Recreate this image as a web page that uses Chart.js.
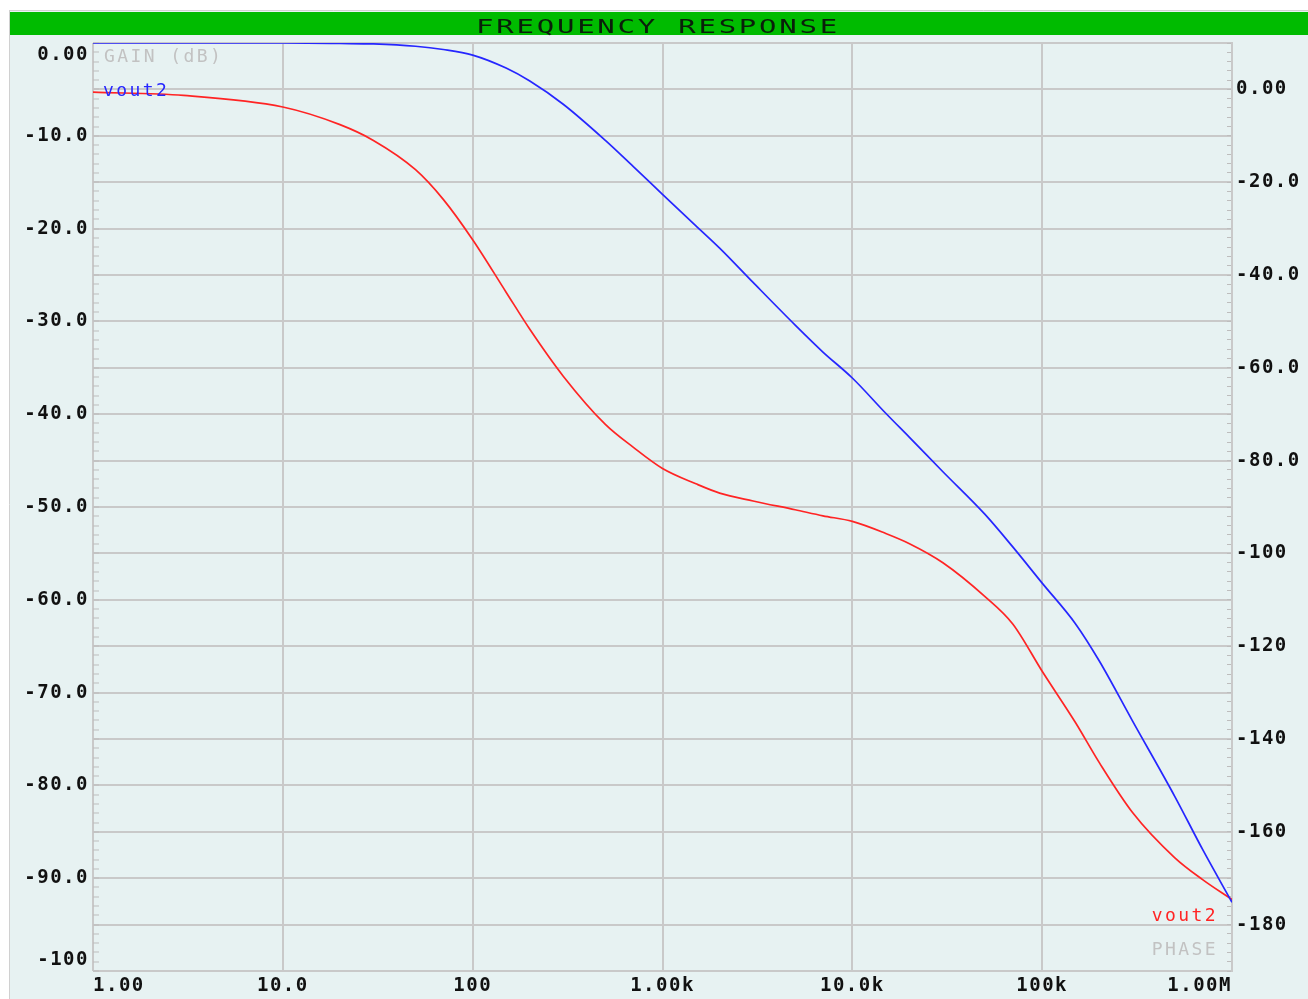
<!DOCTYPE html>
<html><head><meta charset="utf-8">
<script src="https://cdn.jsdelivr.net/npm/chart.js@4.4.1/dist/chart.umd.min.js"></script>
<style>html,body{margin:0;padding:0;background:#fff;overflow:hidden}#wrap{width:1308px;height:999px;position:relative}</style>
</head><body><div id="wrap"><canvas id="c"></canvas></div>
<script>
// ---- data ----
const freqs = [1,3,10,20,30,50,70,100,150,200,300,500,700,1e3,1.5e3,2e3,3e3,5e3,7e3,1e4,1.5e4,2e4,3e4,5e4,7e4,1e5,1.5e5,2e5,3e5,5e5,7e5,1e6];
const gainDb = [0,0,0,-0.05,-0.1,-0.35,-0.7,-1.3,-2.7,-4.1,-6.6,-10.5,-13.3,-16.3,-19.7,-22.1,-25.8,-30.4,-33.3,-36.1,-39.9,-42.5,-46.2,-50.8,-54.3,-58.2,-62.6,-66.6,-73.1,-81.2,-86.9,-92.6];
const phaseDeg = [-0.6,-1.3,-3.8,-7.6,-11.0,-17.3,-23.7,-32.4,-43.7,-51.7,-61.8,-72.2,-77.1,-81.7,-85.0,-87.0,-88.7,-90.6,-91.9,-93.1,-95.7,-97.9,-102.0,-109.3,-115.2,-125.4,-136.5,-145.1,-155.9,-165.6,-170.3,-174.6];

const xTickValues = [1,10,100,1e3,1e4,1e5,1e6];
const xTickLabels = ['1.00','10.0','100','1.00k','10.0k','100k','1.00M'];
const leftTickValues = [0,-10,-20,-30,-40,-50,-60,-70,-80,-90,-100];
const leftTickLabels = ['0.00','-10.0','-20.0','-30.0','-40.0','-50.0','-60.0','-70.0','-80.0','-90.0','-100'];
const rightTickValues = [0,-20,-40,-60,-80,-100,-120,-140,-160,-180];
const rightTickLabels = ['0.00','-20.0','-40.0','-60.0','-80.0','-100','-120','-140','-160','-180'];

const titleText = 'FREQUENCY RESPONSE';
const gainSeriesName = 'vout2';
const phaseSeriesName = 'vout2';
const gainAxisTitle = 'GAIN (dB)';
const phaseAxisTitle = 'PHASE';

const BG = '#E7F2F2';
const GRID = '#C9C9C9';
const MINOR = '#BDBDBD';
const BLUE = '#2626FF';
const RED = '#FF2424';
const TICKFONT = {family: '"DejaVu Sans Mono", monospace', size: 19, weight: 'bold'};

const framePlugin = {
  id: 'frame',
  beforeDraw(chart) {
    const ctx = chart.ctx;
    ctx.save();
    ctx.fillStyle = '#ffffff';
    ctx.fillRect(0, 0, chart.width, chart.height);
    ctx.fillStyle = BG;
    ctx.fillRect(10, 11, chart.width - 10, chart.height - 11);
    ctx.strokeStyle = '#D0D0D0';
    ctx.lineWidth = 1;
    ctx.beginPath(); ctx.moveTo(9.5, 10); ctx.lineTo(9.5, chart.height); ctx.stroke();
    ctx.beginPath(); ctx.moveTo(9, 10.5); ctx.lineTo(chart.width, 10.5); ctx.stroke();
    ctx.fillStyle = '#00BB00';
    ctx.fillRect(10, 12, chart.width - 10, 23);
    ctx.restore();
    ctx.letterSpacing = '1.5px';
    // label alignment tweaks (clamp end labels inside the plot like the original)
    const a = chart.chartArea;
    const xs = chart.scales.x.getLabelItems();
    xs.forEach(it => {
      if (it.label === xTickLabels[0]) { it.options.textAlign = 'left'; it.options.translation[0] = a.left; }
      if (it.label === xTickLabels[xTickLabels.length - 1]) { it.options.textAlign = 'right'; it.options.translation[0] = a.right; }
    });
    const ys = chart.scales.yGain.getLabelItems();
    ys.forEach(it => {
      if (it.label === leftTickLabels[0]) it.options.translation[1] = a.top + 12;
      if (it.label === leftTickLabels[leftTickLabels.length - 1]) it.options.translation[1] = a.bottom - 11;
    });
  },
  afterDraw(chart) {
    const ctx = chart.ctx;
    const a = chart.chartArea;
    ctx.save();
    ctx.font = '20px "DejaVu Sans Mono", monospace';
    ctx.letterSpacing = '1.9px';
    ctx.fillStyle = '#0A1F0A';
    ctx.textAlign = 'center';
    ctx.textBaseline = 'alphabetic';
    ctx.translate(658, 33);
    ctx.scale(1.45, 1);
    ctx.fillText(titleText, 0, 0);
    ctx.restore();

    ctx.save();
    ctx.font = '18px "DejaVu Sans Mono", monospace';
    ctx.letterSpacing = '2.4px';
    ctx.textBaseline = 'alphabetic';
    ctx.textAlign = 'left';
    ctx.fillStyle = '#C2C2C2';
    ctx.fillText(gainAxisTitle, a.left + 11, a.top + 19);
    ctx.fillStyle = BLUE;
    ctx.fillText(gainSeriesName, a.left + 10, a.top + 53);
    ctx.textAlign = 'right';
    ctx.fillStyle = RED;
    ctx.fillText(phaseSeriesName, a.right - 14, a.bottom - 50);
    ctx.fillStyle = '#C2C2C2';
    ctx.fillText(phaseAxisTitle, a.right - 14, a.bottom - 16);
    ctx.restore();
  }
};

new Chart(document.getElementById('c'), {
  type: 'line',
  data: {
    datasets: [
      {label: gainSeriesName, data: freqs.map((f, i) => ({x: f, y: gainDb[i]})), yAxisID: 'yGain',
       borderColor: BLUE, borderWidth: 1.7, pointRadius: 0, cubicInterpolationMode: 'monotone', fill: false},
      {label: phaseSeriesName, data: freqs.map((f, i) => ({x: f, y: phaseDeg[i]})), yAxisID: 'yPhase',
       borderColor: RED, borderWidth: 1.7, pointRadius: 0, cubicInterpolationMode: 'monotone', fill: false}
    ]
  },
  options: {
    responsive: true, maintainAspectRatio: false, animation: false,
    layout: {padding: {top: 43, left: 0, right: 0, bottom: 0}},
    plugins: {legend: {display: false}, title: {display: false}, tooltip: {enabled: false}},
    scales: {
      x: {
        type: 'logarithmic', position: 'bottom', min: 1, max: 1e6,
        afterBuildTicks: s => { s.ticks = xTickValues.map(v => ({value: v})); },
        afterFit: s => { s.height = 28; s.paddingLeft = 0; s.paddingRight = 0; },
        ticks: {autoSkip: false, maxRotation: 0, minRotation: 0, padding: 4, color: '#111', font: TICKFONT,
          callback: v => { const i = xTickValues.indexOf(v); return i >= 0 ? xTickLabels[i] : ''; }},
        grid: {color: GRID, lineWidth: 2, drawTicks: false},
        border: {display: false}
      },
      yGain: {
        type: 'linear', position: 'left', min: -100, max: 0,
        afterBuildTicks: s => { const t = []; for (let v = -100; v <= 0; v++) t.push({value: v}); s.ticks = t; },
        afterFit: s => { s.width = 93; s.paddingTop = 0; s.paddingBottom = 0; },
        ticks: {autoSkip: false, padding: 10, color: '#111', font: TICKFONT,
          callback: v => { const i = leftTickValues.indexOf(v); return i >= 0 ? leftTickLabels[i] : ''; }},
        grid: {drawTicks: true, tickLength: -6, tickColor: MINOR, tickWidth: 1,
          color: c => (c.tick && c.tick.value % 5 === 0) ? GRID : 'rgba(0,0,0,0)',
          lineWidth: c => (c.tick && c.tick.value % 5 === 0) ? 2 : 0},
        border: {display: false}
      },
      yPhase: {
        type: 'linear', position: 'right', min: -190, max: 10,
        afterBuildTicks: s => { const t = []; for (let v = -190; v <= 10; v += 2) t.push({value: v}); s.ticks = t; },
        afterFit: s => { s.width = 76; s.paddingTop = 0; s.paddingBottom = 0; },
        ticks: {autoSkip: false, padding: 9, color: '#111', font: TICKFONT,
          callback: v => { const i = rightTickValues.indexOf(v); return i >= 0 ? rightTickLabels[i] : ''; }},
        grid: {drawOnChartArea: false, drawTicks: true, tickLength: -5, tickColor: MINOR, tickWidth: 1},
        border: {display: true, color: GRID, width: 2}
      }
    }
  },
  plugins: [framePlugin]
});
</script>
</body></html>
